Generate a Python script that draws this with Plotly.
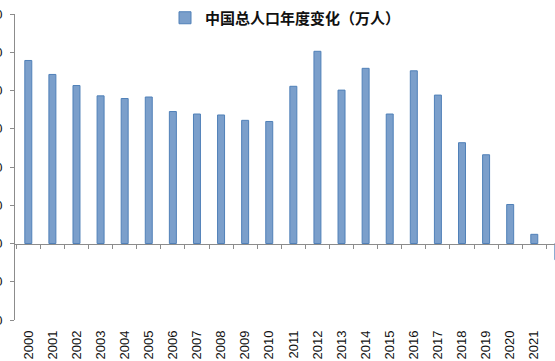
import plotly.graph_objects as go

years = [str(y) for y in range(2000, 2023)]
changes = [957, 884, 826, 772, 758, 766, 690, 677, 672, 644, 638, 822, 1005,
           802, 916, 677, 903, 776, 527, 464, 204, 48, -85]
y_ticks = [-400, -200, 0, 200, 400, 600, 800, 1000, 1200]
series_name = "<b>中国总人口年度变化（万人）</b>"

W, H = 555, 361
ml, mt, mb, mr = 15, 14, 41, 0
y0_frac = (0 - y_ticks[0]) / (y_ticks[-1] - y_ticks[0])

fig = go.Figure()
fig.add_trace(go.Bar(
    x=years, y=changes, name=series_name, width=0.29,
    marker=dict(color="#7b9fcb", line=dict(color="#5080b8", width=1)),
    xaxis="x", yaxis="y",
))
# helper trace for the zero-line axis (ticks on boundaries)
fig.add_trace(go.Scatter(x=years, y=[None] * len(years), xaxis="x2", yaxis="y",
                         showlegend=False, hoverinfo="skip"))

xr = [-0.552, 21.86]
fig.update_layout(
    width=W, height=H,
    margin=dict(l=ml, r=mr, t=mt, b=mb, pad=0, autoexpand=False),
    plot_bgcolor="white", paper_bgcolor="white",
    showlegend=True,
    legend=dict(orientation="h", xref="container", yref="container",
                x=165 / W, y=1 - 18 / H, xanchor="left", yanchor="middle",
                font=dict(family="Noto Sans CJK SC", size=15, color="#111"),
                bgcolor="rgba(0,0,0,0)"),
    xaxis=dict(type="category", range=xr, anchor="y", side="bottom",
               showline=False, ticks="", showgrid=False, zeroline=False,
               automargin=False,
               tickangle=-90, ticklabelstandoff=7,
               tickfont=dict(family="Liberation Sans", size=13, color="#111")),
    xaxis2=dict(type="category", range=xr, overlaying="x", anchor="free",
                position=y0_frac, showline=True, linecolor="#8c8c8c", linewidth=1,
                ticks="outside", tickson="boundaries", ticklen=4, tickcolor="#8c8c8c",
                automargin=False,
                showticklabels=False, showgrid=False, zeroline=False),
    yaxis=dict(range=[y_ticks[0], y_ticks[-1]], tickvals=y_ticks,
               showline=True, linecolor="#8c8c8c", linewidth=1,
               ticks="outside", ticklen=4, tickcolor="#8c8c8c",
               showgrid=False, zeroline=False, ticklabelstandoff=5,
               automargin=False,
               tickfont=dict(family="Liberation Sans", size=13, color="#111")),
    bargap=0.7,
)
fig.write_html("out.html")
